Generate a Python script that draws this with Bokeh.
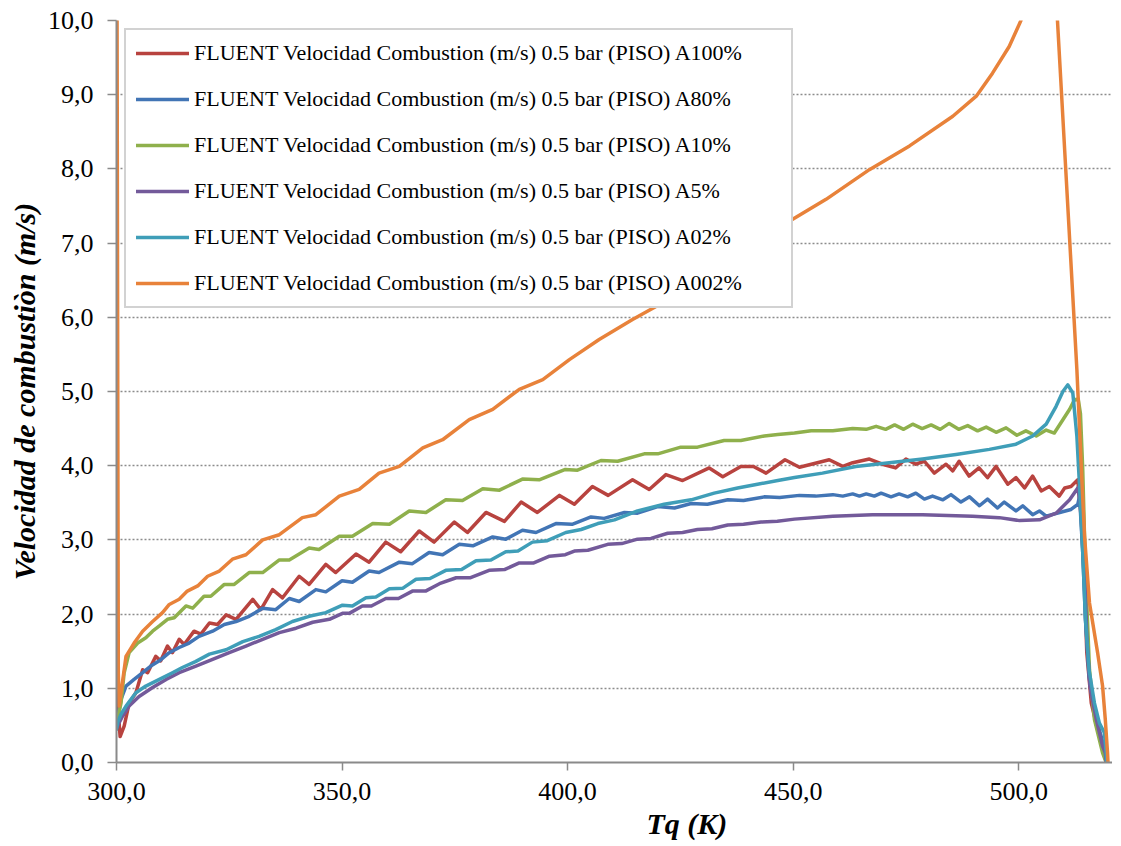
from bokeh.plotting import figure
from bokeh.models import Range1d, FixedTicker, Title, ColumnDataSource
from bokeh.embed import file_html
from bokeh.resources import INLINE

# ---------------- data ----------------
series_names = [
    "FLUENT Velocidad Combustion (m/s) 0.5 bar (PISO) A100%",
    "FLUENT Velocidad Combustion (m/s) 0.5 bar (PISO) A80%",
    "FLUENT Velocidad Combustion (m/s) 0.5 bar (PISO) A10%",
    "FLUENT Velocidad Combustion (m/s) 0.5 bar (PISO) A5%",
    "FLUENT Velocidad Combustion (m/s) 0.5 bar (PISO) A02%",
    "FLUENT Velocidad Combustion (m/s) 0.5 bar (PISO) A002%",
]

tq_a100 = [300.0, 300.5, 300.8, 301.7, 302.8, 304.3, 305.8, 306.9, 308.7, 309.8, 311.3, 312.4, 313.9, 315.0,
           317.2, 318.7, 320.6, 322.4, 324.3, 326.5, 330.2, 332.0, 334.6, 336.8, 340.5, 342.7, 346.4, 348.6,
           353.1, 356.0, 359.7, 363.0, 367.1, 370.4, 374.9, 377.8, 381.9, 386.0, 389.7, 393.3, 398.2, 401.5,
           405.5, 409.0, 414.4, 418.1, 421.8, 425.5, 431.4, 434.4, 438.4, 441.2, 444.0, 448.2, 451.4, 458.0,
           461.0, 463.2, 466.9, 469.8, 472.7, 475.0, 477.2, 479.1, 481.3, 483.9, 485.4, 486.8, 489.0, 491.2,
           493.1, 495.0, 497.6, 499.4, 501.3, 503.1, 505.0, 506.8, 509.0, 510.2, 511.6, 513.1, 513.9, 514.6,
           515.1, 516.1, 517.5, 519.0, 519.4]
v_a100 = [1.60, 0.60, 0.35, 0.49, 0.80, 0.94, 1.25, 1.21, 1.43, 1.37, 1.57, 1.48, 1.66, 1.59,
          1.77, 1.73, 1.88, 1.86, 1.99, 1.93, 2.20, 2.06, 2.33, 2.22, 2.51, 2.40, 2.67, 2.56,
          2.81, 2.70, 2.97, 2.84, 3.12, 2.97, 3.24, 3.10, 3.37, 3.25, 3.51, 3.37, 3.60, 3.48,
          3.72, 3.60, 3.81, 3.68, 3.88, 3.80, 3.97, 3.85, 3.99, 3.99, 3.90, 4.08, 3.98, 4.08,
          3.99, 4.04, 4.09, 4.02, 3.97, 4.09, 4.02, 4.06, 3.90, 4.02, 3.93, 4.06, 3.86, 3.97,
          3.84, 3.99, 3.75, 3.84, 3.70, 3.86, 3.66, 3.72, 3.59, 3.70, 3.72, 3.81, 3.27, 2.38,
          1.48, 0.80, 0.44, 0.13, 0.0]

tq_a80 = [300.0, 300.2, 301.0, 302.1, 303.9, 305.8, 307.6, 309.5, 311.7, 313.9, 316.1, 318.3, 321.3, 323.9,
          326.5, 329.4, 332.4, 335.3, 338.3, 340.5, 344.2, 346.4, 350.0, 352.3, 356.0, 358.2, 362.7, 365.6,
          369.3, 372.3, 376.0, 379.0, 383.4, 386.3, 390.0, 393.0, 397.4, 401.0, 405.2, 408.1, 412.6, 415.5,
          420.0, 423.7, 427.4, 431.0, 435.5, 439.0, 443.6, 447.0, 451.4, 455.0, 458.8, 461.0, 463.2, 464.7,
          466.2, 468.0, 469.5, 471.7, 473.5, 475.4, 477.2, 479.1, 480.9, 483.2, 485.0, 487.2, 489.1, 491.3,
          493.1, 495.3, 496.8, 499.4, 500.9, 503.1, 504.6, 506.1, 509.1, 511.6, 513.1, 513.5, 514.2, 514.8,
          515.6, 516.8, 518.3, 519.2, 519.4]
v_a80 = [0.50, 0.58, 0.85, 1.03, 1.12, 1.21, 1.30, 1.37, 1.48, 1.55, 1.61, 1.70, 1.77, 1.86,
         1.90, 1.97, 2.08, 2.06, 2.21, 2.17, 2.33, 2.30, 2.45, 2.43, 2.58, 2.56, 2.70, 2.68,
         2.83, 2.80, 2.94, 2.92, 3.04, 3.01, 3.13, 3.10, 3.22, 3.21, 3.31, 3.29, 3.37, 3.36,
         3.45, 3.43, 3.49, 3.48, 3.54, 3.53, 3.58, 3.57, 3.60, 3.59, 3.61, 3.59, 3.62, 3.59,
         3.62, 3.59, 3.63, 3.58, 3.62, 3.58, 3.63, 3.55, 3.59, 3.54, 3.61, 3.51, 3.58, 3.46,
         3.55, 3.43, 3.51, 3.39, 3.46, 3.34, 3.39, 3.32, 3.37, 3.41, 3.48, 3.59, 2.83, 1.93,
         1.16, 0.67, 0.35, 0.13, 0.0]

tq_a10 = [300.3, 301.0, 301.7, 302.8, 304.7, 306.5, 308.0, 309.5, 311.3, 312.8, 315.4, 316.9, 319.4, 320.9,
          323.9, 326.1, 329.4, 332.4, 336.1, 338.3, 342.7, 344.9, 349.4, 352.3, 356.8, 360.5, 364.9, 368.6,
          373.0, 376.7, 381.2, 384.9, 390.0, 393.7, 399.5, 402.2, 407.4, 411.1, 417.0, 420.0, 425.1, 428.8,
          434.7, 438.4, 443.6, 446.6, 450.3, 454.0, 458.8, 463.2, 466.2, 468.4, 470.5, 472.5, 474.5, 476.5,
          478.6, 480.6, 482.6, 484.6, 486.7, 488.7, 490.9, 492.8, 495.0, 497.2, 499.6, 501.6, 503.9, 506.1,
          507.9, 509.8, 511.3, 512.4, 513.2, 513.7, 514.2, 514.6, 515.1, 515.7, 516.8, 518.6, 519.4]
v_a10 = [0.60, 0.80, 1.21, 1.48, 1.61, 1.68, 1.77, 1.84, 1.93, 1.95, 2.11, 2.08, 2.24, 2.24,
         2.40, 2.40, 2.56, 2.56, 2.73, 2.73, 2.89, 2.87, 3.05, 3.05, 3.22, 3.21, 3.39, 3.37,
         3.54, 3.53, 3.69, 3.67, 3.82, 3.81, 3.95, 3.94, 4.07, 4.06, 4.16, 4.16, 4.25, 4.25,
         4.34, 4.34, 4.40, 4.42, 4.44, 4.47, 4.47, 4.50, 4.49, 4.53, 4.49, 4.55, 4.49, 4.56,
         4.50, 4.55, 4.49, 4.57, 4.49, 4.54, 4.47, 4.52, 4.45, 4.51, 4.41, 4.47, 4.40, 4.48,
         4.44, 4.62, 4.76, 4.89, 4.90, 4.70, 3.95, 3.05, 2.15, 1.25, 0.58, 0.13, 0.0]

tq_a5 = [300.0, 300.2, 301.3, 302.8, 305.0, 308.0, 311.0, 313.9, 317.6, 321.3, 325.0, 328.7, 332.4, 336.1,
         339.8, 343.5, 347.2, 350.1, 351.6, 354.5, 356.5, 359.7, 362.5, 365.6, 368.5, 371.6, 375.3, 378.5,
         382.6, 386.0, 389.3, 392.5, 396.0, 399.5, 401.5, 404.5, 408.9, 412.0, 415.5, 418.5, 422.2, 425.5,
         428.8, 432.0, 435.5, 439.0, 442.9, 446.5, 450.3, 458.8, 467.6, 478.7, 489.8, 495.7, 500.2, 504.6,
         508.3, 511.3, 513.1, 513.9, 514.6, 515.1, 515.8, 517.2, 518.6, 519.2, 519.4]
v_a5 = [0.45, 0.49, 0.62, 0.76, 0.89, 1.01, 1.12, 1.21, 1.30, 1.39, 1.48, 1.57, 1.66, 1.75,
        1.81, 1.89, 1.93, 2.01, 2.01, 2.11, 2.11, 2.21, 2.21, 2.31, 2.31, 2.41, 2.49, 2.49,
        2.59, 2.60, 2.69, 2.69, 2.78, 2.80, 2.85, 2.86, 2.94, 2.95, 3.01, 3.02, 3.09, 3.10,
        3.14, 3.15, 3.20, 3.21, 3.24, 3.25, 3.28, 3.32, 3.34, 3.34, 3.32, 3.30, 3.26, 3.27,
        3.36, 3.54, 3.70, 3.41, 2.60, 1.70, 1.03, 0.58, 0.22, 0.13, 0.0]

tq_a02 = [300.0, 300.3, 301.0, 302.1, 304.3, 306.5, 309.5, 312.4, 314.6, 317.5, 320.6, 324.3, 328.0, 331.6,
          335.3, 339.0, 342.7, 346.4, 350.1, 352.3, 355.3, 357.5, 360.5, 363.5, 366.4, 369.5, 373.0, 376.5,
          379.7, 383.0, 386.3, 389.0, 392.2, 395.5, 399.6, 403.0, 406.7, 410.4, 415.5, 421.4, 427.4, 432.5,
          437.7, 442.1, 446.6, 450.3, 456.5, 463.9, 471.3, 478.7, 486.1, 493.5, 499.4, 503.1, 506.1, 508.3,
          509.8, 510.9, 512.0, 512.9, 513.5, 514.2, 514.8, 515.6, 516.8, 517.9, 519.0, 519.4, 519.5]
v_a02 = [0.45, 0.55, 0.65, 0.76, 0.94, 1.03, 1.12, 1.21, 1.28, 1.36, 1.46, 1.52, 1.63, 1.70,
         1.79, 1.90, 1.97, 2.02, 2.12, 2.11, 2.22, 2.23, 2.34, 2.35, 2.47, 2.48, 2.59, 2.60,
         2.72, 2.73, 2.84, 2.85, 2.97, 2.99, 3.10, 3.14, 3.22, 3.27, 3.39, 3.48, 3.54, 3.63,
         3.70, 3.75, 3.80, 3.84, 3.90, 3.99, 4.04, 4.09, 4.15, 4.22, 4.29, 4.40, 4.56, 4.80,
         5.00, 5.09, 4.98, 4.40, 3.72, 2.83, 1.93, 1.25, 0.80, 0.53, 0.40, 0.13, 0.0]

tq_a002 = [300.0, 300.4, 300.6, 302.1, 303.9, 305.8, 308.0, 310.2, 311.7, 313.9, 315.7, 318.0, 320.2, 322.8,
           325.7, 328.7, 332.4, 336.1, 341.2, 344.2, 349.4, 353.8, 358.2, 362.7, 367.9, 372.3, 378.2, 383.4,
           389.3, 394.5, 400.4, 407.0, 414.4, 420.3, 435.0, 449.9, 457.3, 466.9, 475.8, 485.4, 490.6, 494.2,
           497.9, 500.5, 504.5, 508.6, 512.9, 513.9, 514.6, 515.7, 517.5, 518.6, 519.2, 519.7, 519.8]
v_a002 = [14.0, 1.20, 0.76, 1.43, 1.61, 1.77, 1.90, 2.02, 2.13, 2.20, 2.31, 2.38, 2.51, 2.58,
          2.74, 2.80, 3.00, 3.07, 3.30, 3.34, 3.59, 3.68, 3.90, 3.99, 4.24, 4.35, 4.62, 4.76,
          5.03, 5.16, 5.43, 5.70, 5.97, 6.17, 6.75, 7.32, 7.59, 7.99, 8.31, 8.71, 8.98, 9.29,
          9.65, 10.0, 11.5, 10.0, 5.30, 3.95, 3.05, 2.15, 1.48, 1.03, 0.58, 0.13, 0.0]

x_ticks = [300, 350, 400, 450, 500]
x_tick_labels = ["300,0", "350,0", "400,0", "450,0", "500,0"]
y_ticks = [0, 1, 2, 3, 4, 5, 6, 7, 8, 9, 10]
y_tick_labels = ["0,0", "1,0", "2,0", "3,0", "4,0", "5,0", "6,0", "7,0", "8,0", "9,0", "10,0"]

x_label = "Tq (K)"
y_label = "Velocidad de combustiòn (m/s)"

# ---------------- styling ----------------
colors = ["#B8433F", "#4275B5", "#8FB04C", "#735A9A", "#3F9EB8", "#E8823A"]
FONT = "Liberation Serif"
AXIS_GRAY = "#8a8a8a"

p = figure(frame_width=996, frame_height=742,
           x_range=Range1d(300, 520.8), y_range=Range1d(0, 10),
           output_backend="svg", toolbar_location=None,
           min_border_left=116, min_border_right=0, min_border_top=20, min_border_bottom=60)
p.outline_line_color = None
p.background_fill_color = "white"
p.border_fill_color = "white"

xs = [tq_a100, tq_a80, tq_a10, tq_a5, tq_a02, tq_a002]
ys = [v_a100, v_a80, v_a10, v_a5, v_a02, v_a002]
for name, xv, yv, c in zip(series_names, xs, ys, colors):
    src = ColumnDataSource(dict(x=xv, y=yv))
    p.line("x", "y", source=src, line_color=c, line_width=3.5, legend_label=name,
           line_join="round", line_cap="round")

# grid
p.xgrid.visible = False
p.ygrid.grid_line_color = "#8c8c8c"
p.ygrid.grid_line_dash = "2 2"
p.ygrid.grid_line_width = 1.5

# axes
p.xaxis.ticker = FixedTicker(ticks=x_ticks)
p.xaxis.major_label_overrides = {t: l for t, l in zip(x_ticks, x_tick_labels)}
p.yaxis.ticker = FixedTicker(ticks=y_ticks)
p.yaxis.major_label_overrides = {t: l for t, l in zip(y_ticks, y_tick_labels)}

for ax in (p.xaxis[0], p.yaxis[0]):
    ax.axis_line_color = AXIS_GRAY
    ax.axis_line_width = 2
    ax.major_tick_line_color = AXIS_GRAY
    ax.major_tick_line_width = 1.5
    ax.major_tick_in = 0
    ax.minor_tick_line_color = None
    ax.major_label_text_font = FONT
    ax.major_label_text_font_size = "26px"
    ax.major_label_text_color = "black"

p.xaxis.major_tick_out = 8
p.xaxis.major_label_standoff = 12
p.yaxis.major_tick_out = 9
p.yaxis.major_label_standoff = 14

p.yaxis.axis_label = y_label
p.yaxis.axis_label_text_font = FONT
p.yaxis.axis_label_text_font_size = "30px"
p.yaxis.axis_label_text_font_style = "bold italic"
p.yaxis.axis_label_text_color = "black"
p.yaxis.axis_label_standoff = 4

# x-axis title below the axis, right of centre as in the reference
xt = Title(text=x_label, align="left", offset=530, text_font=FONT, text_font_size="30px",
           text_font_style="bold italic", text_color="black", standoff=4)
p.add_layout(xt, "below")

# legend
lg = p.legend[0]
lg.location = "top_left"
lg.margin = 8
lg.padding = 10
lg.spacing = 20
lg.label_height = 26
lg.glyph_height = 26
lg.glyph_width = 53
lg.label_standoff = 5
lg.label_width = 587
lg.label_text_font = FONT
lg.label_text_font_size = "22px"
lg.label_text_color = "black"
lg.border_line_color = "#a6a6a6"
lg.border_line_width = 2
lg.background_fill_color = "white"
lg.background_fill_alpha = 1.0

open("out.html", "w").write(file_html(p, INLINE))
